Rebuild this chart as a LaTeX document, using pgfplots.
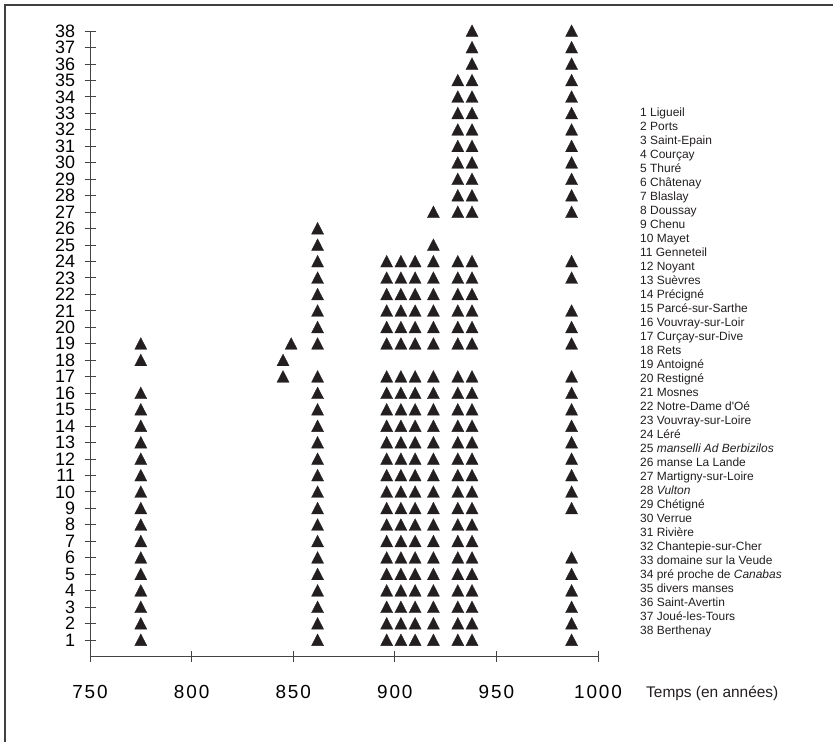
\documentclass[border=0pt]{standalone}
\usepackage{fontspec}
\setmainfont{Liberation Sans}
\newfontfamily\spaced[LetterSpace=10]{Liberation Sans}
\usepackage{pgfplots}
\pgfplotsset{compat=1.18}
\definecolor{ink}{HTML}{231F20}
\definecolor{axisgray}{HTML}{444444}

\begin{document}
\begin{tikzpicture}[x=1bp,y=1bp]
\path[use as bounding box] (0,0) rectangle (833,742);
\draw[line width=1.8bp, black!75] (5,0) -- (5,737) -- (833,737);

\begin{axis}[
  at={(90bp,85.5bp)}, anchor=south west,
  scale only axis, width=508bp, height=625.5bp,
  xmin=750, xmax=1000, ymin=0, ymax=38,
  axis x line*=bottom, axis y line*=left,
  xtick={750,800,...,1000}, ytick={1,...,38},
  tick align=center, major tick length=11bp,
  axis line style={axisgray, line width=0.8bp},
  tick style={axisgray, line width=0.8bp},
  /pgf/number format/assume math mode=true,
  /pgf/number format/1000 sep={},
  xticklabel style={font=\spaced\fontsize{19}{19}\selectfont, yshift=-20bp},
  yticklabel style={font=\fontsize{18}{18}\selectfont, xshift=-6bp},
  clip=false,
  tri/.style={only marks, mark=triangle*, mark size=7bp, color=ink,
    mark options={yscale=1.12, yshift=-1.5bp, solid, fill=ink, line width=0.3bp}},
]
% 775
\addplot[tri] coordinates {(775,1)(775,2)(775,3)(775,4)(775,5)(775,6)(775,7)(775,8)(775,9)(775,10)
  (775,11)(775,12)(775,13)(775,14)(775,15)(775,16)(775,18)(775,19)};
% 845 / 849
\addplot[tri] coordinates {(845,17)(845,18)(849,19)};
% 862
\addplot[tri] coordinates {(862,1)(862,2)(862,3)(862,4)(862,5)(862,6)(862,7)(862,8)(862,9)(862,10)
  (862,11)(862,12)(862,13)(862,14)(862,15)(862,16)(862,17)
  (862,19)(862,20)(862,21)(862,22)(862,23)(862,24)(862,25)(862,26)};
% 896
\addplot[tri] coordinates {(896,1)(896,2)(896,3)(896,4)(896,5)(896,6)(896,7)(896,8)(896,9)(896,10)
  (896,11)(896,12)(896,13)(896,14)(896,15)(896,16)(896,17)
  (896,19)(896,20)(896,21)(896,22)(896,23)(896,24)};
% 903
\addplot[tri] coordinates {(903,1)(903,2)(903,3)(903,4)(903,5)(903,6)(903,7)(903,8)(903,9)(903,10)
  (903,11)(903,12)(903,13)(903,14)(903,15)(903,16)(903,17)
  (903,19)(903,20)(903,21)(903,22)(903,23)(903,24)};
% 910
\addplot[tri] coordinates {(910,1)(910,2)(910,3)(910,4)(910,5)(910,6)(910,7)(910,8)(910,9)(910,10)
  (910,11)(910,12)(910,13)(910,14)(910,15)(910,16)(910,17)
  (910,19)(910,20)(910,21)(910,22)(910,23)(910,24)};
% 919
\addplot[tri] coordinates {(919,1)(919,2)(919,3)(919,4)(919,5)(919,6)(919,7)(919,8)(919,9)(919,10)
  (919,11)(919,12)(919,13)(919,14)(919,15)(919,16)(919,17)
  (919,19)(919,20)(919,21)(919,22)(919,23)(919,24)(919,25)(919,27)};
% 931
\addplot[tri] coordinates {(931,1)(931,2)(931,3)(931,4)(931,5)(931,6)(931,7)(931,8)(931,9)(931,10)
  (931,11)(931,12)(931,13)(931,14)(931,15)(931,16)(931,17)
  (931,19)(931,20)(931,21)(931,22)(931,23)(931,24)
  (931,27)(931,28)(931,29)(931,30)(931,31)(931,32)(931,33)(931,34)(931,35)};
% 938
\addplot[tri] coordinates {(938,1)(938,2)(938,3)(938,4)(938,5)(938,6)(938,7)(938,8)(938,9)(938,10)
  (938,11)(938,12)(938,13)(938,14)(938,15)(938,16)(938,17)
  (938,19)(938,20)(938,21)(938,22)(938,23)(938,24)
  (938,27)(938,28)(938,29)(938,30)(938,31)(938,32)(938,33)(938,34)(938,35)(938,36)(938,37)(938,38)};
% 987
\addplot[tri] coordinates {(987,1)(987,2)(987,3)(987,4)(987,5)(987,6)
  (987,9)(987,10)(987,11)(987,12)(987,13)(987,14)(987,15)(987,16)(987,17)
  (987,19)(987,20)(987,21)(987,23)(987,24)
  (987,27)(987,28)(987,29)(987,30)(987,31)(987,32)(987,33)(987,34)(987,35)(987,36)(987,37)(987,38)};
\end{axis}

% list of places
\foreach \t [count=\i] in {Ligueil, Ports, Saint-Epain, Courçay, Thuré, Châtenay, Blaslay,
  Doussay, Chenu, Mayet, Genneteil, Noyant, Suèvres, Précigné, Parcé-sur-Sarthe,
  Vouvray-sur-Loir, Curçay-sur-Dive, Rets, Antoigné, Restigné, Mosnes,
  Notre-Dame d\textquotesingle Oé, Vouvray-sur-Loire, Léré, {\itshape manselli Ad Berbizilos},
  manse La Lande, Martigny-sur-Loire, {\itshape Vulton}, Chétigné, Verrue, Rivière,
  Chantepie-sur-Cher, domaine sur la Veude, pré proche de {\itshape Canabas},
  divers manses, Saint-Avertin, Joué-les-Tours, Berthenay}
  \node[anchor=base west, inner sep=0pt, font=\fontsize{12}{12}\selectfont, ink]
    at (640, {742-116.5-(\i-1)*14}) {\i\ \t};

\node[anchor=base west, inner sep=0pt, font=\fontsize{15.5}{15.5}\selectfont, ink]
  at (646, 44.5) {Temps (en années)};
\end{tikzpicture}
\end{document}
